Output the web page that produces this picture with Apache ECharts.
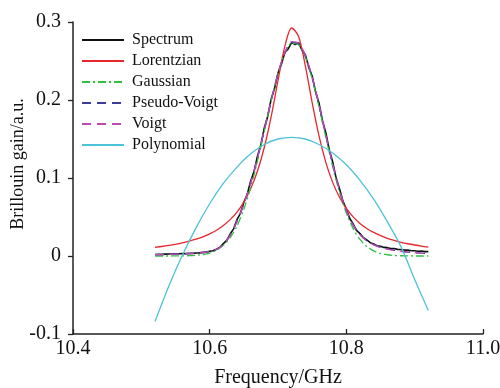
<!DOCTYPE html>
<html><head><meta charset="utf-8">
<script src="https://cdn.jsdelivr.net/npm/echarts@6/dist/echarts.min.js"></script>
<style>html,body{margin:0;padding:0;background:#fff}#c{width:500px;height:388px}</style>
</head><body><div id="c"></div>
<script>
var specFreq = [10.520,10.525,10.530,10.535,10.540,10.545,10.550,10.555,10.560,10.565,10.570,10.575,10.580,10.585,10.590,10.595,10.600,10.605,10.610,10.615,10.620,10.625,10.630,10.635,10.640,10.645,10.650,10.655,10.660,10.665,10.670,10.675,10.680,10.685,10.690,10.695,10.700,10.705,10.710,10.715,10.720,10.725,10.730,10.735,10.740,10.745,10.750,10.755,10.760,10.765,10.770,10.775,10.780,10.785,10.790,10.795,10.800,10.805,10.810,10.815,10.820,10.825,10.830,10.835,10.840,10.845,10.850,10.855,10.860,10.865,10.870,10.875,10.880,10.885,10.890,10.895,10.900,10.905,10.910,10.915,10.920];
var spectrum = [0.0020,0.0023,0.0021,0.0024,0.0026,0.0025,0.0029,0.0028,0.0031,0.0030,0.0035,0.0034,0.0039,0.0040,0.0047,0.0050,0.0060,0.0068,0.0088,0.0112,0.0158,0.0200,0.0282,0.0348,0.0466,0.0548,0.0688,0.0792,0.0962,0.1085,0.1282,0.1428,0.1645,0.1792,0.2012,0.2150,0.2345,0.2458,0.2610,0.2655,0.2738,0.2712,0.2735,0.2640,0.2580,0.2420,0.2308,0.2105,0.1962,0.1738,0.1580,0.1362,0.1208,0.1002,0.0866,0.0704,0.0602,0.0481,0.0410,0.0328,0.0288,0.0234,0.0206,0.0170,0.0155,0.0132,0.0126,0.0110,0.0107,0.0095,0.0095,0.0085,0.0084,0.0075,0.0075,0.0067,0.0068,0.0061,0.0062,0.0056,0.0056];
var freq = [10.52,10.53,10.54,10.55,10.56,10.57,10.58,10.59,10.60,10.61,10.62,10.63,10.64,10.65,10.66,10.67,10.68,10.69,10.70,10.71,10.72,10.73,10.74,10.75,10.76,10.77,10.78,10.79,10.80,10.81,10.82,10.83,10.84,10.85,10.86,10.87,10.88,10.89,10.90,10.91,10.92];
var lorentzian = [0.0111,0.0122,0.0135,0.0150,0.0168,0.0190,0.0215,0.0246,0.0284,0.0331,0.0391,0.0466,0.0563,0.0691,0.0861,0.1089,0.1394,0.1787,0.2250,0.2688,0.2923,0.2817,0.2437,0.1966,0.1540,0.1201,0.0944,0.0753,0.0610,0.0502,0.0418,0.0353,0.0302,0.0261,0.0227,0.0199,0.0176,0.0157,0.0141,0.0127,0.0115];
var gaussian = [0.0000,0.0000,0.0000,0.0001,0.0002,0.0004,0.0009,0.0019,0.0038,0.0074,0.0136,0.0235,0.0386,0.0599,0.0878,0.1219,0.1600,0.1988,0.2335,0.2595,0.2728,0.2713,0.2552,0.2271,0.1912,0.1522,0.1147,0.0817,0.0551,0.0351,0.0212,0.0121,0.0065,0.0033,0.0016,0.0007,0.0003,0.0001,0.0000,0.0000,0.0000];
var pseudoVoigt = [0.0018,0.0019,0.0021,0.0024,0.0027,0.0031,0.0036,0.0044,0.0057,0.0084,0.0148,0.0265,0.0445,0.0665,0.0935,0.1255,0.1615,0.1990,0.2335,0.2600,0.2740,0.2720,0.2565,0.2290,0.1935,0.1550,0.1180,0.0845,0.0585,0.0395,0.0275,0.0195,0.0145,0.0112,0.0089,0.0073,0.0061,0.0051,0.0043,0.0037,0.0032];
var voigt = [0.0017,0.0018,0.0020,0.0023,0.0026,0.0030,0.0035,0.0043,0.0056,0.0083,0.0147,0.0264,0.0444,0.0664,0.0934,0.1256,0.1617,0.1993,0.2340,0.2605,0.2748,0.2728,0.2570,0.2293,0.1937,0.1551,0.1180,0.0844,0.0583,0.0393,0.0273,0.0193,0.0143,0.0110,0.0088,0.0072,0.0060,0.0050,0.0042,0.0036,0.0031];
var polyFreq = [10.52,10.54,10.56,10.58,10.60,10.62,10.64,10.66,10.68,10.70,10.72,10.74,10.76,10.78,10.80,10.82,10.84,10.86,10.88,10.90,10.92];
var polynomial = [-0.084,-0.039,0.001,0.036,0.067,0.093,0.114,0.131,0.143,0.150,0.152,0.150,0.143,0.132,0.117,0.097,0.073,0.044,0.012,-0.030,-0.070];
var xTicks = {min:10.4, max:11.0, interval:0.2};
var yTicks = {min:-0.1, max:0.3, interval:0.1};

function pairs(xs, ys){ return xs.map(function(x,i){ return [x, ys[i]]; }); }
var FONT = 'Liberation Serif';
var chart = echarts.init(document.getElementById('c'), null, {renderer:'canvas'});
function ser(name, xs, ys, color, type, width, z, smooth){
  return {name:name, type:'line', data:pairs(xs,ys), symbol:'none', showSymbol:false, smooth:smooth, z:z,
    lineStyle:{color:color, width:width, type:type}, itemStyle:{color:color}};
}
chart.setOption({
  animation:false,
  backgroundColor:'#fff',
  grid:{left:73, right:17, top:22, bottom:54, containLabel:false, outerBoundsMode:'none'},
  legend:{orient:'vertical', left:76, top:27, itemWidth:42, itemHeight:14, itemGap:5,
    itemStyle:{opacity:0},
    textStyle:{fontFamily:FONT, fontSize:16, color:'#111', padding:[0,0,0,3]},
    data:['Spectrum','Lorentzian','Gaussian','Pseudo-Voigt','Voigt','Polynomial']},
  xAxis:{type:'value', min:xTicks.min, max:xTicks.max, interval:xTicks.interval,
    name:'Frequency/GHz', nameLocation:'middle', nameGap:34, nameMoveOverlap:false,
    nameTextStyle:{fontFamily:FONT, fontSize:20, color:'#111'},
    axisLine:{onZero:false, lineStyle:{color:'#222', width:1.5}},
    axisTick:{inside:true, length:5, lineStyle:{color:'#222', width:1.3}},
    axisLabel:{fontFamily:FONT, fontSize:20, color:'#111', margin:5,
      formatter:function(v){return v.toFixed(1);}},
    splitLine:{show:false}},
  yAxis:{type:'value', min:yTicks.min, max:yTicks.max, interval:yTicks.interval,
    name:'Brillouin gain/a.u.', nameLocation:'middle', nameGap:46, nameMoveOverlap:false,
    nameTextStyle:{fontFamily:FONT, fontSize:18, color:'#111', padding:[0,0,0,28]},
    axisLine:{onZero:false, lineStyle:{color:'#222', width:1.5}},
    axisTick:{inside:false, length:5, lineStyle:{color:'#222', width:1.3}},
    axisLabel:{fontFamily:FONT, fontSize:20, color:'#111', margin:12,
      formatter:function(v){ return Math.abs(v)<1e-9 ? '0' : v.toFixed(1); }},
    splitLine:{show:false}},
  series:[
    ser('Spectrum', specFreq, spectrum, '#111111', 'solid', 1.6, 2, false),
    ser('Lorentzian', freq, lorentzian, '#e8262b', 'solid', 1.3, 3, 0.3),
    ser('Gaussian', freq, gaussian, '#2fbf45', [8,3,2,3], 1.3, 4, 0.3),
    ser('Pseudo-Voigt', freq, pseudoVoigt, '#3c3c9c', [9,6], 1.3, 5, 0.3),
    ser('Voigt', freq, voigt, '#c04ab4', [9,6], 1.3, 6, 0.3),
    ser('Polynomial', polyFreq, polynomial, '#4cc3d9', 'solid', 1.3, 7, 0.3)
  ]
});
</script></body></html>
